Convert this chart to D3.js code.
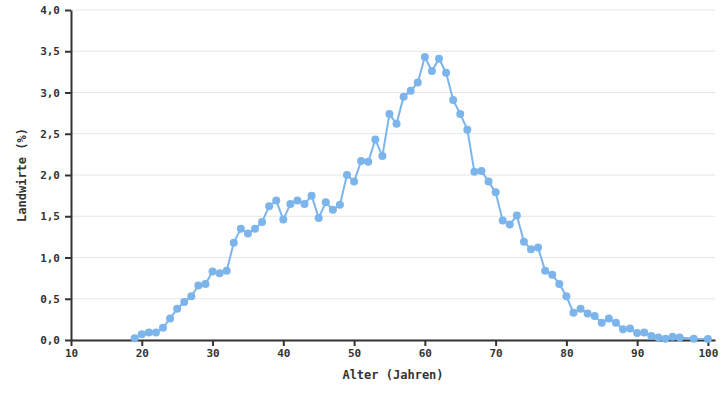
<!DOCTYPE html>
<html>
<head>
<meta charset="utf-8">
<script src="https://cdn.jsdelivr.net/npm/d3@7"></script>
<style>
  html, body { margin: 0; padding: 0; background: #fff; }
  svg { display: block; }
  .axis text { font-family: "DejaVu Sans Mono", monospace; font-weight: bold; font-size: 11px; fill: #333; }
  .axis path, .axis line { stroke: #333; stroke-width: 2; }
  .label { font-family: "DejaVu Sans Mono", monospace; font-weight: bold; font-size: 12px; fill: #333; }
</style>
</head>
<body>
<svg id="chart" width="725" height="400"></svg>
<script>
const ages = [19,20,21,22,23,24,25,26,27,28,29,30,31,32,33,34,35,36,37,38,39,40,41,42,43,44,45,46,47,48,49,50,51,52,53,54,55,56,57,58,59,60,61,62,63,64,65,66,67,68,69,70,71,72,73,74,75,76,77,78,79,80,81,82,83,84,85,86,87,88,89,90,91,92,93,94,95,96,98,100];
const shares = [0.02,0.07,0.09,0.09,0.15,0.26,0.38,0.46,0.53,0.66,0.68,0.83,0.81,0.84,1.18,1.35,1.29,1.35,1.43,1.62,1.69,1.46,1.65,1.69,1.65,1.75,1.48,1.67,1.58,1.64,2.00,1.92,2.17,2.16,2.43,2.23,2.74,2.62,2.95,3.02,3.12,3.43,3.26,3.41,3.24,2.91,2.74,2.55,2.04,2.05,1.92,1.79,1.45,1.40,1.51,1.19,1.10,1.12,0.84,0.79,0.68,0.53,0.33,0.38,0.32,0.29,0.21,0.26,0.21,0.13,0.14,0.085,0.09,0.05,0.03,0.015,0.04,0.03,0.015,0.012];
const xTicks = [10,20,30,40,50,60,70,80,90,100];
const yTicks = [0,0.5,1,1.5,2,2.5,3,3.5,4];
const xTitle = "Alter (Jahren)";
const yTitle = "Landwirte (%)";

const margin = {top: 10, right: 10, bottom: 60, left: 71};
const W = 725, H = 400;
const w = W - margin.left - margin.right;
const h = H - margin.top - margin.bottom;

const svg = d3.select("#chart");
const g = svg.append("g").attr("transform", `translate(${margin.left},${margin.top})`);

const x = d3.scaleLinear().domain([10, 101]).range([0, w]);
const y = d3.scaleLinear().domain([0, 4]).range([h, 0]);

// grid
g.append("g").selectAll("line").data(yTicks).join("line")
  .attr("x1", 0).attr("x2", w)
  .attr("y1", d => y(d)).attr("y2", d => y(d))
  .attr("stroke", "#e6e6e6").attr("stroke-width", 1);

const fmt = d => d3.format(".1f")(d).replace(".", ",");

const ya = g.append("g").attr("class", "axis")
  .call(d3.axisLeft(y).tickValues(yTicks).tickFormat(fmt).tickSize(6).tickSizeOuter(0));
ya.selectAll("text").attr("dx", "-2");

const xa = g.append("g").attr("class", "axis").attr("transform", `translate(0,${h})`)
  .call(d3.axisBottom(x).tickValues(xTicks).tickFormat(d3.format("d")).tickSize(6).tickSizeOuter(0));

const data = ages.map((a, i) => ({a, v: shares[i]}));

g.append("path").datum(data)
  .attr("fill", "none").attr("stroke", "#7cb5ec").attr("stroke-width", 2)
  .attr("d", d3.line().x(d => x(d.a)).y(d => y(d.v)));

g.append("g").selectAll("circle").data(data).join("circle")
  .attr("cx", d => x(d.a)).attr("cy", d => y(d.v)).attr("r", 4)
  .attr("fill", "#7cb5ec");

svg.append("text").attr("class", "label")
  .attr("x", margin.left + w / 2).attr("y", 379)
  .attr("text-anchor", "middle").text(xTitle);

svg.append("text").attr("class", "label")
  .attr("transform", `translate(26,${margin.top + h / 2}) rotate(-90)`)
  .attr("text-anchor", "middle").text(yTitle);
</script>
</body>
</html>
